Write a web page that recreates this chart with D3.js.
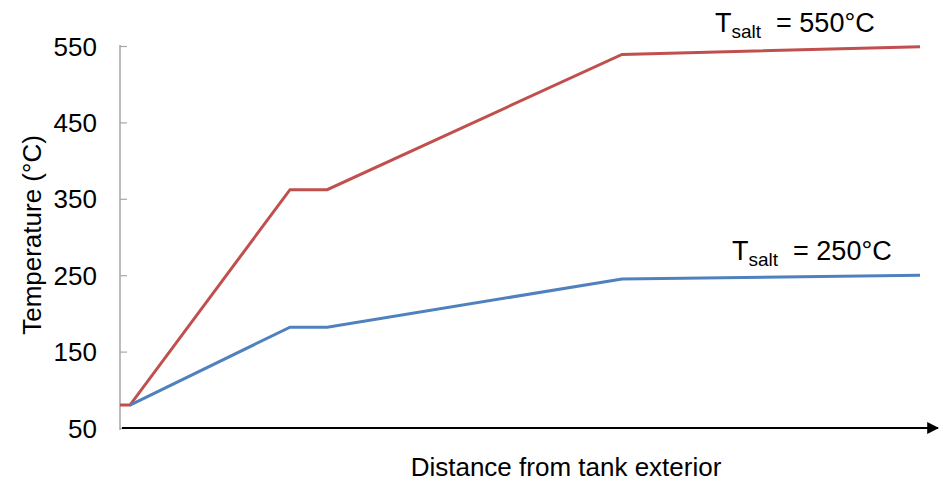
<!DOCTYPE html>
<html>
<head>
<meta charset="utf-8">
<script src="https://cdn.jsdelivr.net/npm/d3@7"></script>
<style>
  body { margin: 0; background: #fff; }
  text { font-family: "Liberation Sans", Arial, sans-serif; fill: #000; }
</style>
</head>
<body>
<div id="chart"></div>
<script>
var svgWidth = 941;
var svgHeight = 481;

// distance from tank exterior (arbitrary units)
var distance = [0, 1.25, 21.25, 25.9, 62.75, 100];
var hotSalt = [80, 80, 362, 362, 539, 549];     // T_salt = 550°C
var coldSalt = [null, 80, 182, 182, 245, 250];  // T_salt = 250°C
var yTicks = [50, 150, 250, 350, 450, 550];

var xScale = d3.scaleLinear().domain([0, 100]).range([120, 920]);
var yScale = d3.scaleLinear().domain([50, 550]).range([428, 46]);

var svg = d3.select("#chart")
  .append("svg")
  .attr("width", svgWidth)
  .attr("height", svgHeight);

// y axis
var leftAxis = d3.axisRight(yScale)
  .tickValues(yTicks)
  .tickSize(7)
  .tickFormat(d3.format("d"));

var yAxis = svg.append("g")
  .attr("transform", "translate(120,0)")
  .call(leftAxis);
yAxis.attr("font-size", null).attr("font-family", null);
yAxis.select(".domain").attr("stroke", "#a6a6a6").attr("stroke-width", 1.5)
  .attr("d", "M0," + (yScale(550) - 1) + "V" + (yScale(50) + 2));
yAxis.selectAll(".tick line").attr("stroke", "#a6a6a6").attr("stroke-width", 1.2);
yAxis.selectAll(".tick text")
  .attr("x", -23)
  .attr("text-anchor", "end")
  .attr("dy", "0.35em")
  .style("font-size", "26px");

// x axis with arrow
svg.append("defs").append("marker")
  .attr("id", "arrow")
  .attr("viewBox", "0 0 10 10")
  .attr("refX", 9)
  .attr("refY", 5)
  .attr("markerWidth", 12)
  .attr("markerHeight", 12)
  .attr("markerUnits", "userSpaceOnUse")
  .attr("orient", "auto")
  .append("path")
  .attr("d", "M0,0L10,5L0,10Z")
  .attr("fill", "#000");

svg.append("line")
  .attr("x1", 122)
  .attr("x2", 938)
  .attr("y1", yScale(50))
  .attr("y2", yScale(50))
  .attr("stroke", "#000")
  .attr("stroke-width", 2)
  .attr("marker-end", "url(#arrow)");

// lines
var line = d3.line()
  .defined(d => d[1] != null)
  .x(d => xScale(d[0]))
  .y(d => yScale(d[1]));

svg.append("path")
  .datum(d3.zip(distance, hotSalt))
  .attr("d", line)
  .attr("fill", "none")
  .attr("stroke", "#C0504D")
  .attr("stroke-width", 3);

svg.append("path")
  .datum(d3.zip(distance, coldSalt))
  .attr("d", line)
  .attr("fill", "none")
  .attr("stroke", "#4F81BD")
  .attr("stroke-width", 3);

// series labels
function saltLabel(x, y, value) {
  var t = svg.append("text")
    .attr("x", x)
    .attr("y", y)
    .style("font-size", "27px")
    .attr("xml:space", "preserve");
  t.append("tspan").text("T");
  t.append("tspan").style("font-size", "19px").attr("dy", 6).text("salt");
  t.append("tspan").attr("dy", -6).text("  = " + value + "°C");
}
saltLabel(715, 32, 550);
saltLabel(732, 260, 250);

// axis labels
svg.append("text")
  .attr("transform", "translate(41, 235) rotate(-90)")
  .attr("text-anchor", "middle")
  .style("font-size", "26px")
  .text("Temperature (°C)");

svg.append("text")
  .attr("x", 566)
  .attr("y", 476)
  .attr("text-anchor", "middle")
  .style("font-size", "26px")
  .text("Distance from tank exterior");
</script>
</body>
</html>
